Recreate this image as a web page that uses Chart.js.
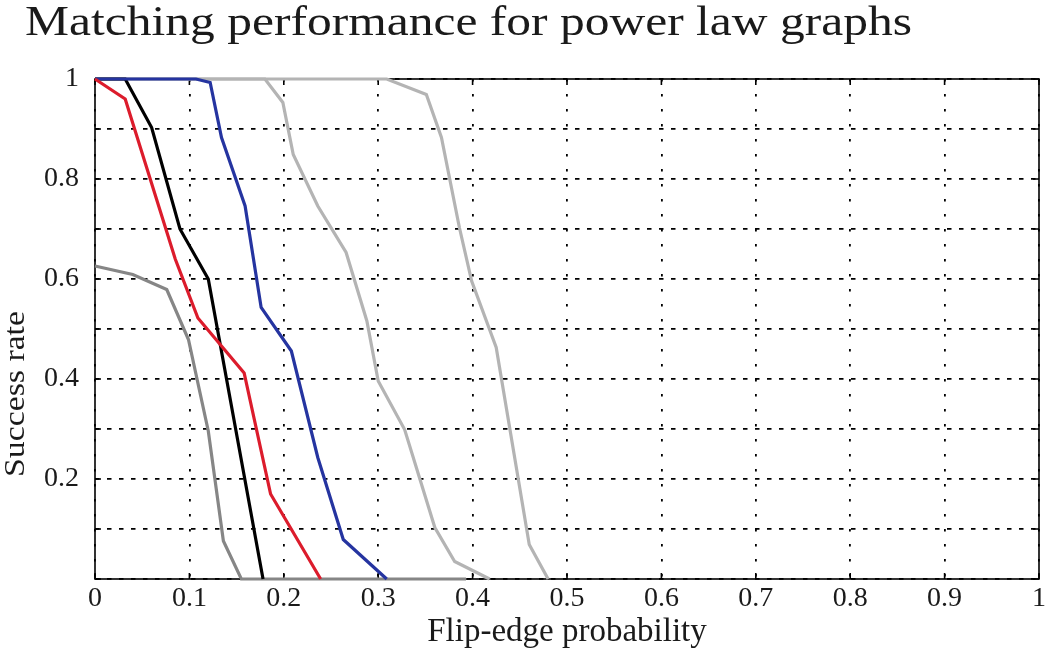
<!DOCTYPE html>
<html><head><meta charset="utf-8">
<script src="https://cdn.jsdelivr.net/npm/chart.js@4/dist/chart.umd.min.js"></script>
<style>html,body{margin:0;padding:0;background:#fff}#wrap{width:1050px;height:649px}</style>
</head><body><div id="wrap"><canvas id="c" width="1050" height="649"></canvas></div>
<script>
const chartTitle = 'Matching performance for power law graphs';
const xAxisTitle = 'Flip-edge probability';
const yAxisTitle = 'Success rate';

const xTickValues = [0, 0.1, 0.2, 0.3, 0.4, 0.5, 0.6, 0.7, 0.8, 0.9, 1];
const xTickLabels = ['0', '0.1', '0.2', '0.3', '0.4', '0.5', '0.6', '0.7', '0.8', '0.9', '1'];
const yTickValues = [0, 0.1, 0.2, 0.3, 0.4, 0.5, 0.6, 0.7, 0.8, 0.9, 1];
const yTickLabels = ['', '', '0.2', '', '0.4', '', '0.6', '', '0.8', '', '1'];

const redX = [0, 0.032, 0.085, 0.109, 0.158, 0.186, 0.239];
const redY = [1, 0.96, 0.64, 0.522, 0.412, 0.17, 0];

const blueX = [0, 0.107, 0.122, 0.134, 0.159, 0.176, 0.208, 0.236, 0.263, 0.309];
const blueY = [1, 1, 0.993, 0.883, 0.746, 0.543, 0.456, 0.243, 0.079, 0];

const blackX = [0, 0.032, 0.06, 0.09, 0.12, 0.178];
const blackY = [1, 1, 0.903, 0.7, 0.6, 0];

const darkGreyX = [0, 0.04, 0.076, 0.099, 0.12, 0.127, 0.136, 0.155, 0.393];
const darkGreyY = [0.626, 0.609, 0.579, 0.479, 0.296, 0.2, 0.076, 0, 0];

const lightGreyAX = [0, 0.18, 0.199, 0.21, 0.236, 0.266, 0.288, 0.3, 0.328, 0.36, 0.381, 0.418];
const lightGreyAY = [1, 1, 0.953, 0.849, 0.746, 0.653, 0.516, 0.396, 0.299, 0.103, 0.035, 0];

const lightGreyBX = [0, 0.309, 0.351, 0.367, 0.386, 0.399, 0.425, 0.46, 0.48];
const lightGreyBY = [1, 1, 0.969, 0.883, 0.703, 0.596, 0.463, 0.069, 0];

const pts = (xs, ys) => xs.map((x, i) => ({x: x, y: ys[i]}));
const series = [
  {label: 'red', xs: redX, ys: redY, color: '#dc1c2c'},
  {label: 'blue', xs: blueX, ys: blueY, color: '#2534a0'},
  {label: 'black', xs: blackX, ys: blackY, color: '#000000'},
  {label: 'dark grey', xs: darkGreyX, ys: darkGreyY, color: '#868686'},
  {label: 'light grey 1', xs: lightGreyAX, ys: lightGreyAY, color: '#b4b4b4'},
  {label: 'light grey 2', xs: lightGreyBX, ys: lightGreyBY, color: '#b4b4b4'}
];

const SERIF = '"Liberation Serif", "Times New Roman", serif';
const TXT = '#1a1a1a';

const framePlugin = {
  id: 'frame',
  beforeDatasetsDraw(chart) {
    const {ctx, chartArea: {left, top, right, bottom}, scales: {x, y}} = chart;
    ctx.save();
    ctx.strokeStyle = '#000';
    ctx.lineWidth = 1.6;
    ctx.setLineDash([]);
    ctx.strokeRect(left, top, right - left, bottom - top);
    ctx.beginPath();
    const tl = 6;
    x.ticks.forEach(t => {
      const p = x.getPixelForValue(t.value);
      ctx.moveTo(p, bottom); ctx.lineTo(p, bottom - tl);
      ctx.moveTo(p, top); ctx.lineTo(p, top + tl);
    });
    y.ticks.forEach(t => {
      const p = y.getPixelForValue(t.value);
      ctx.moveTo(left, p); ctx.lineTo(left + tl, p);
      ctx.moveTo(right, p); ctx.lineTo(right - tl, p);
    });
    ctx.stroke();
    ctx.restore();
  }
};

const textPlugin = {
  id: 'texts',
  afterDraw(chart) {
    const ctx = chart.ctx;
    ctx.save();
    ctx.fillStyle = TXT;
    ctx.font = '42px ' + SERIF;
    ctx.textAlign = 'left';
    ctx.textBaseline = 'alphabetic';
    let w = ctx.measureText(chartTitle).width;
    ctx.translate(25, 35);
    ctx.scale(887 / w, 1);
    ctx.fillText(chartTitle, 0, 0);
    ctx.restore();

    ctx.save();
    ctx.fillStyle = TXT;
    ctx.font = '29px ' + SERIF;
    ctx.textAlign = 'center';
    ctx.textBaseline = 'alphabetic';
    w = ctx.measureText(yAxisTitle).width;
    ctx.translate(24, 394);
    ctx.rotate(-Math.PI / 2);
    ctx.scale(166 / w, 1);
    ctx.fillText(yAxisTitle, 0, 0);
    ctx.restore();
  }
};

new Chart(document.getElementById('c'), {
  type: 'scatter',
  data: {
    datasets: series.map(s => ({
      label: s.label,
      data: pts(s.xs, s.ys),
      showLine: true,
      borderColor: s.color,
      backgroundColor: s.color,
      borderWidth: 3.2,
      pointRadius: 0,
      pointHoverRadius: 0,
      tension: 0,
      clip: 4
    }))
  },
  options: {
    responsive: false,
    animation: false,
    devicePixelRatio: 1,
    layout: {padding: {top: 79, right: 11, bottom: 0, left: 0}},
    plugins: {legend: {display: false}, tooltip: {enabled: false}, title: {display: false}},
    scales: {
      x: {
        type: 'linear', min: 0, max: 1,
        afterBuildTicks: s => { s.ticks = xTickValues.map(v => ({value: v})); },
        afterFit: s => { s.height = 70; },
        ticks: {
          callback: (v, i) => xTickLabels[i],
          color: TXT, font: {family: SERIF, size: 28}, padding: 3, maxRotation: 0, autoSkip: false
        },
        grid: {color: '#000', lineWidth: 1.8, drawTicks: false},
        border: {display: false, dash: [2.5, 12.5]},
        title: {display: true, text: xAxisTitle, color: TXT, font: {family: SERIF, size: 33}, padding: {top: 0, bottom: -3}}
      },
      y: {
        type: 'linear', min: 0, max: 1,
        afterBuildTicks: s => { s.ticks = yTickValues.map(v => ({value: v})); },
        afterFit: s => { s.width = 95; },
        ticks: {
          callback: (v, i) => yTickLabels[i],
          color: TXT, font: {family: SERIF, size: 28}, padding: 16, autoSkip: false
        },
        grid: {color: '#000', lineWidth: 1.8, drawTicks: false},
        border: {display: false, dash: [4.5, 7.5]}
      }
    }
  },
  plugins: [framePlugin, textPlugin]
});
</script></body></html>
